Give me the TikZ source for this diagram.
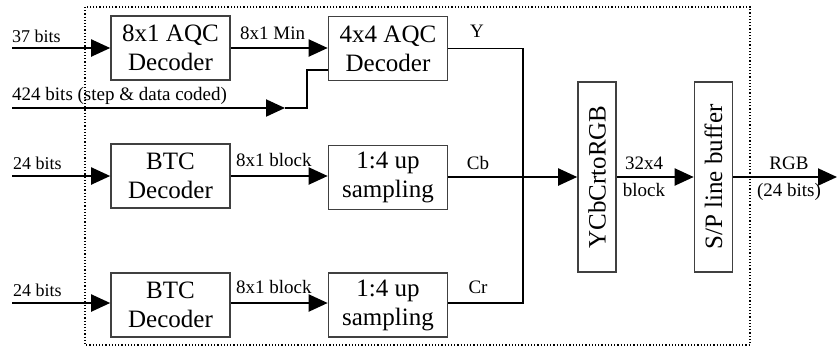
\documentclass[tikz,border=0pt]{standalone}
\usepackage{fontspec}
\setmainfont{Liberation Serif}
\usetikzlibrary{arrows.meta,calc}
\begin{document}
\begin{tikzpicture}[x=1pt,y=-1pt,
 box/.style={draw=black!75, line width=1.6pt, minimum width=119pt, minimum height=64pt, inner sep=0pt, align=center, font=\fontsize{25}{29}\selectfont},
 vbox/.style={draw=black!75, line width=1.6pt, minimum width=38pt, minimum height=190pt, inner sep=0pt, font=\fontsize{25}{29}\selectfont},
 lbl/.style={font=\fontsize{19}{21}\selectfont, inner sep=0pt},
 arr/.style={line width=2pt, -{Triangle[length=19pt,width=17pt]}},
 ln/.style={line width=2pt},
 thinln/.style={line width=1.4pt}]
\useasboundingbox (0,0) rectangle (838,349);
\draw[dotted, line width=1.2pt] (85,7) rectangle (750,345);
% boxes
\node[box] (aqc1) at (170.5,48) {8x1 AQC\\Decoder};
\node[box] (aqc2) at (388,48.5) {4x4 AQC\\Decoder};
\node[box] (btc1) at (170.5,176) {BTC\\Decoder};
\node[box] (up1) at (388,177.5) {1:4 up\\sampling};
\node[box] (btc2) at (170.5,305) {BTC\\Decoder};
\node[box] (up2) at (388,305) {1:4 up\\sampling};
\node[vbox] (ycc) at (597,177) {\rotatebox{90}{YCbCrtoRGB}};
\node[vbox] (sp) at (713.5,177) {\rotatebox{90}{S/P line buffer}};
% free ends
\coordinate (i1) at (12,48);
\coordinate (i2) at (12,108);
\coordinate (m2) at (285,108);
\coordinate (b2) at (307,108);
\coordinate (i3) at (12,176);
\coordinate (i4) at (12,303);
\coordinate (j) at (523,177);
\coordinate (out) at (837,177);
% connectors
\draw[arr] (i1) -- (aqc1.west |- i1);
\draw[arr] (aqc1.east |- i1) -- (aqc2.west |- i1);
\draw[arr] (i2) -- (m2);
\draw[ln] (m2) -- (b2) |- ($(aqc2.west)+(0,21.5)$);
\draw[arr] (i3) -- (btc1.west |- i3);
\draw[arr] (btc1.east |- i3) -- (up1.west |- i3);
\draw[arr] (i4) -- (btc2.west |- i4);
\draw[arr] (btc2.east |- i4) -- (up2.west |- i4);
\draw[thinln] (aqc2.east) -- (aqc2.east -| j) -- (j);
\draw[thinln] (up2.east |- i4) -- (j |- i4) -- (j);
\draw[arr] (up1.east |- j) -- (ycc.west |- j);
\draw[arr] (ycc.east |- j) -- (sp.west |- j);
\draw[arr] (sp.east |- j) -- (out);
% labels
\node[lbl, anchor=base west, font=\fontsize{18}{20}\selectfont] (l1) at (12,42) {37 bits};
\node[lbl, anchor=base west] (l2) at (12,100) {424 bits (step \& data coded)};
\node[lbl, anchor=base west] (l3) at (240,39) {8x1 Min};
\node[lbl, anchor=base] (l4) at (477,37) {Y};
\node[lbl, anchor=base west, font=\fontsize{18}{20}\selectfont] (l5) at (13,169) {24 bits};
\node[lbl, anchor=base west] (l6) at (236,166) {8x1 block};
\node[lbl, anchor=base] (l7) at (478,169) {Cb};
\node[lbl, anchor=base west, font=\fontsize{18}{20}\selectfont] (l8) at (13,296) {24 bits};
\node[lbl, anchor=base west] (l9) at (236,293) {8x1 block};
\node[lbl, anchor=base] (l10) at (478,293) {Cr};
\node[lbl, anchor=base] (l11) at (644,169) {32x4};
\node[lbl, anchor=base] (l12) at (644,196) {block};
\node[lbl, anchor=base] (l13) at (789,169) {RGB};
\node[lbl, anchor=base] (l14) at (789,196) {(24 bits)};
\end{tikzpicture}
\end{document}
